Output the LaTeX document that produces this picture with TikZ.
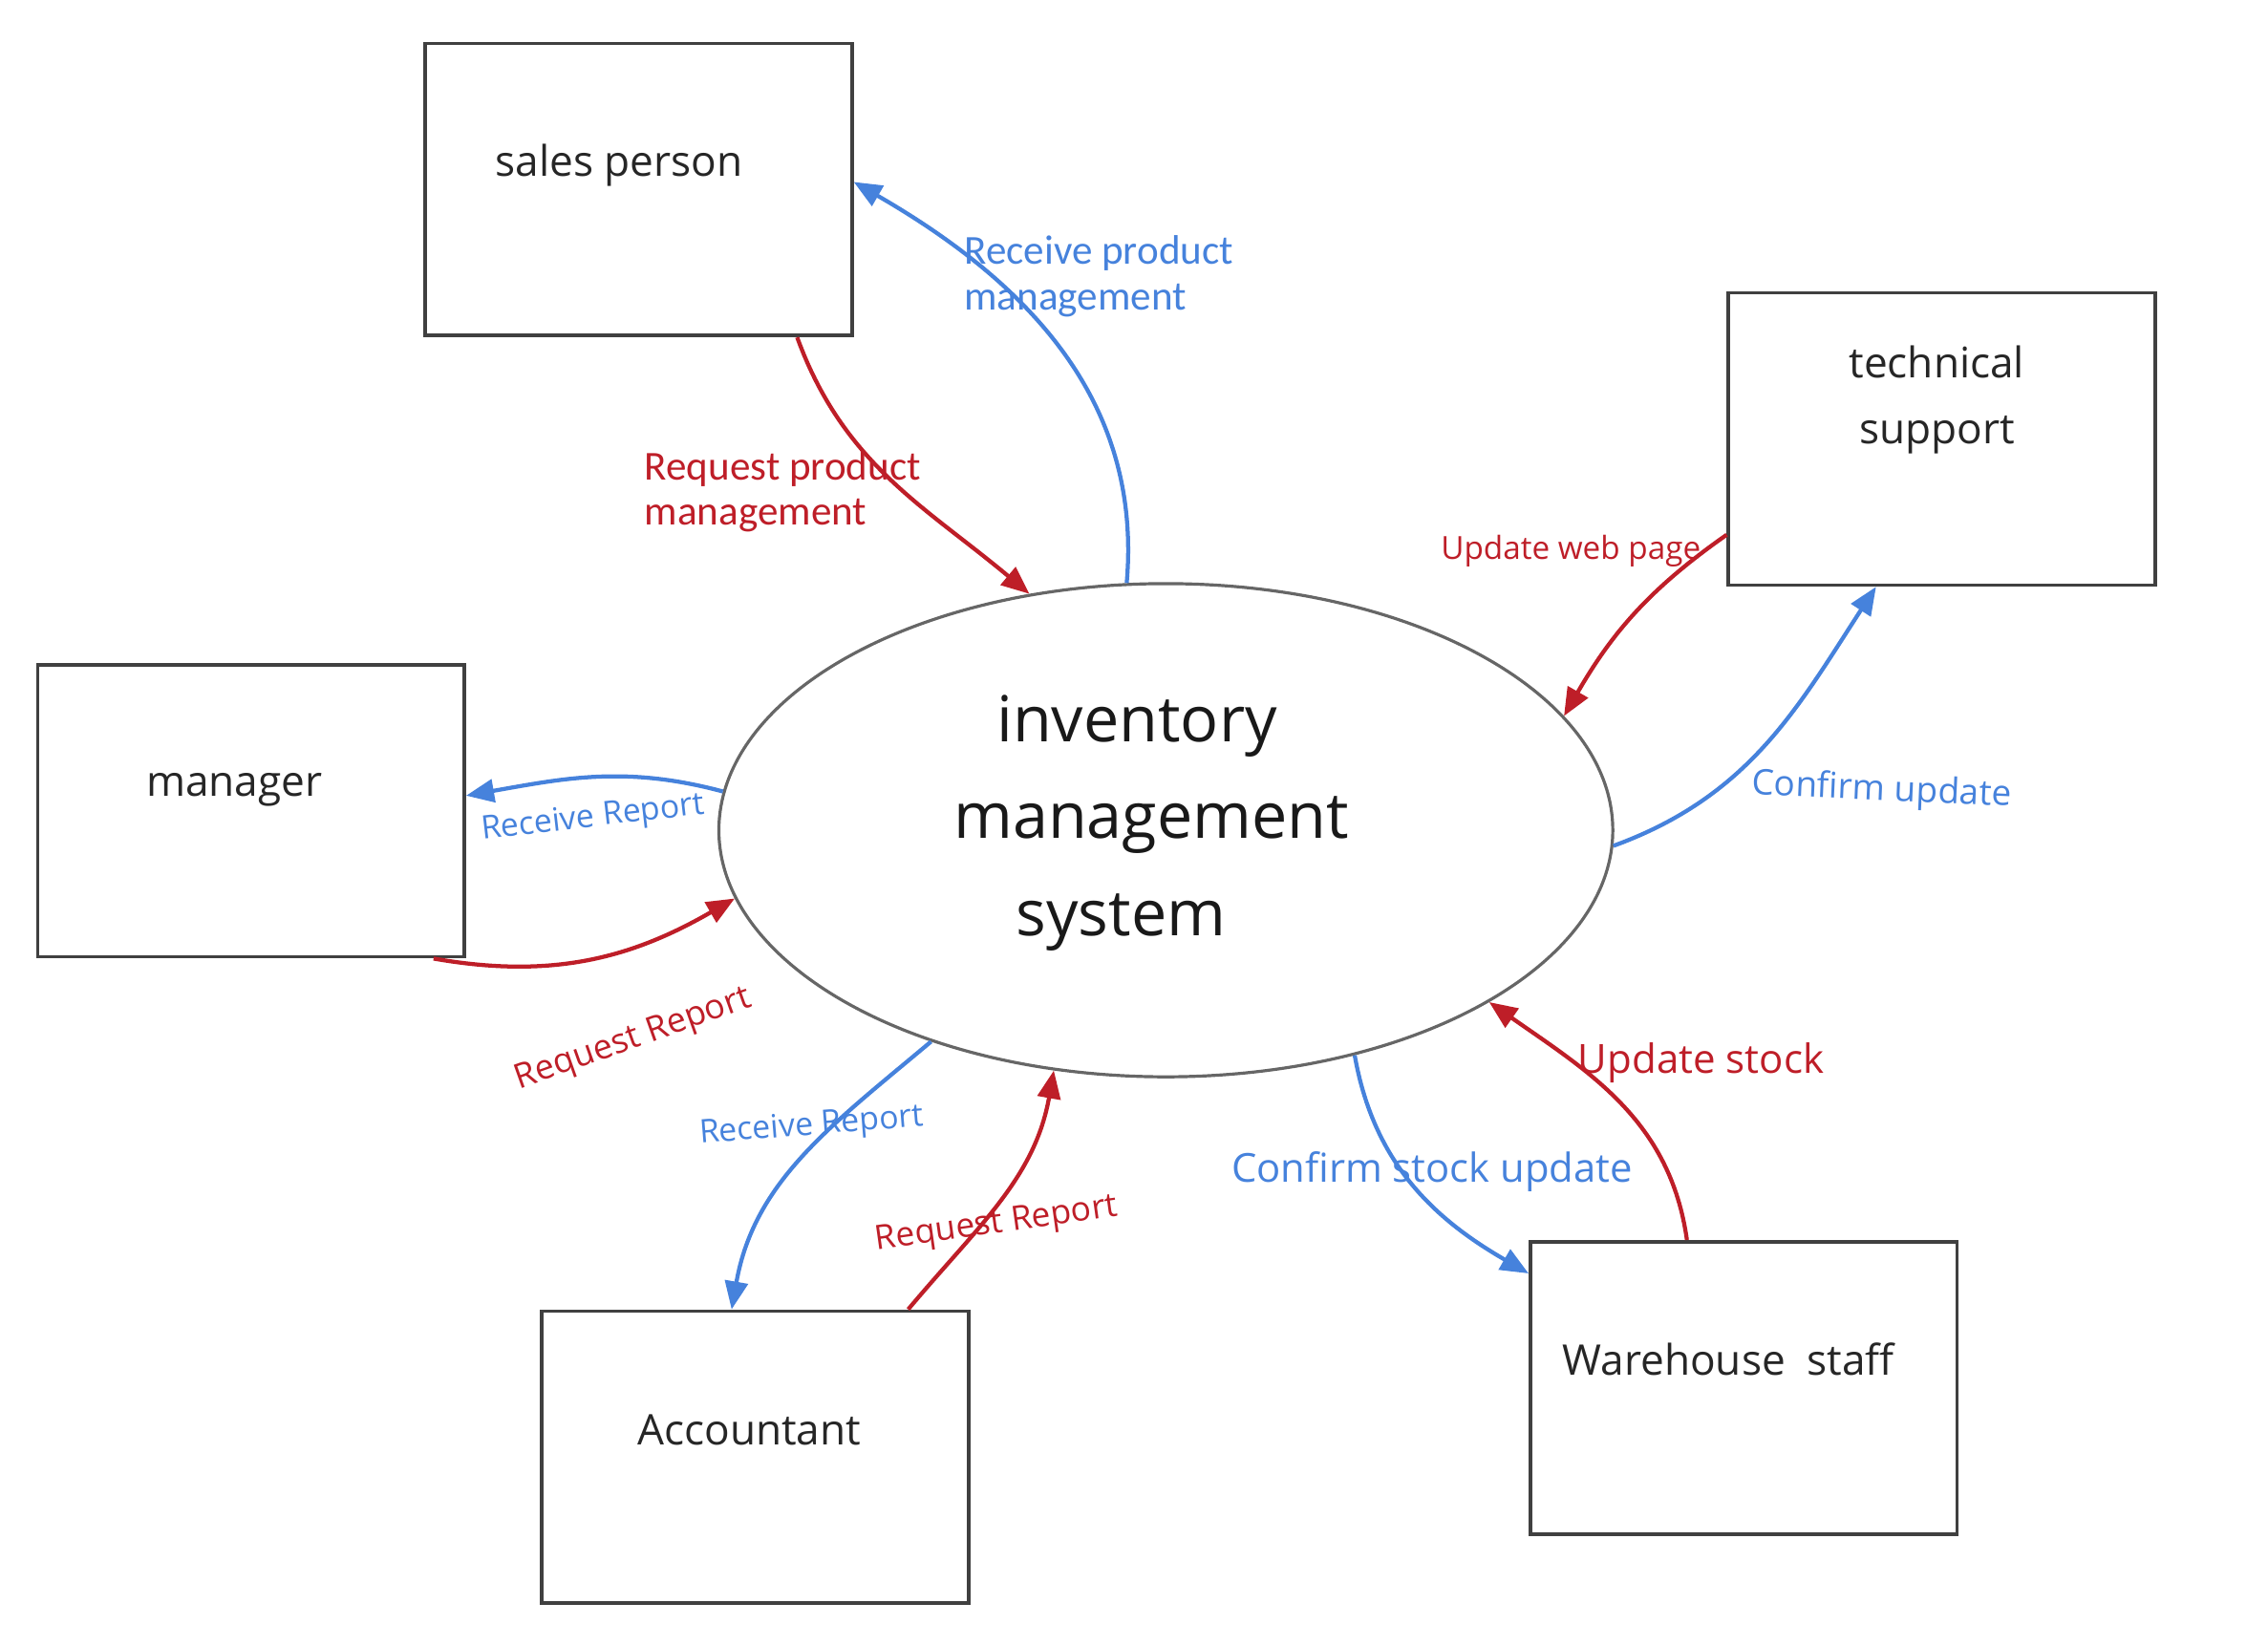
\documentclass[tikz,border=0pt]{standalone}
\usepackage{fontspec}
\setmainfont{Open Sans}
\newfontfamily\narrowfont{Carlito}
\usetikzlibrary{arrows.meta,shapes.geometric}
\definecolor{flowred}{RGB}{190,30,40}
\definecolor{flowblue}{RGB}{70,130,220}
\tikzset{
  entity/.style={draw=black!75, line width=0.7pt, minimum width=2.95cm, minimum height=2.02cm, inner sep=0pt},
  enttext/.style={text=black!85, font=\fontsize{8.3}{12.9}\selectfont, align=center, inner sep=0pt},
  flow/.style={line width=0.8pt, -{Triangle[length=5.5pt,width=4.5pt]}},
  req/.style={flow, flowred},
  rcv/.style={flow, flowblue},
  reqlabel/.style={text=flowred, inner sep=0pt},
  rcvlabel/.style={text=flowblue, inner sep=0pt},
}
\begin{document}
\begin{tikzpicture}[scale=1]
\useasboundingbox (0,0) rectangle (15.68,-11.38);

\node[entity] (sales) at (4.415,-1.31) {};
\node[entity] (tech) at (13.425,-3.035) {};
\node[entity] (manager) at (1.735,-5.605) {};
\node[entity] (accountant) at (5.22,-10.075) {};
\node[entity] (warehouse) at (12.055,-9.595) {};
\node[draw=black!60, line width=0.6pt, ellipse, minimum width=6.18cm, minimum height=3.41cm, inner sep=0pt] (ims) at (8.06,-5.74) {};

\node[enttext] (salesT) at (4.28,-1.14) {sales person};
\node[enttext] (techT) at (13.39,-2.765) {technical\\ support};
\node[enttext] (managerT) at (1.62,-5.46) {manager};
\node[enttext] (accountantT) at (5.18,-9.89) {Accountant};
\node[enttext] (warehouseT) at (11.95,-9.40) {Warehouse~ staff};
\node[font=\fontsize{12.5}{19.1}\selectfont, align=center, text=black!90] (imsT) at (7.86,-5.69) {inventory\\ \hspace*{0.2cm}management\\ system\hspace*{0.22cm}};

% sales person
\draw[req] (sales.-43.5) to[out=-70,in=140] (ims.120);
\draw[rcv] (ims.99) to[out=85,in=-30] (sales.2);
\node[reqlabel, anchor=west, align=left, font=\narrowfont\fontsize{8.1}{8.9}\selectfont] (reqSales) at (4.45,-3.4) {Request product\\ management};
\node[rcvlabel, anchor=west, align=left, font=\narrowfont\fontsize{8.1}{8.9}\selectfont] (rcvSales) at (6.66,-1.91) {Receive product\\ management};

% technical support
\draw[req] (tech.204) to[out=215,in=60] (ims.16);
\draw[rcv] (ims.-2) to[out=20,in=237] (tech.246);
\node[reqlabel, font=\fontsize{6.25}{7}\selectfont] (reqTech) at (10.86,-3.81) {Update web page};
\node[rcvlabel, font=\fontsize{6.95}{8}\selectfont, rotate=-2.5] (rcvTech) at (13.01,-5.47) {Confirm update};

% manager
\draw[rcv] (ims.175.5) to[out=165,in=10] (manager.4);
\draw[req] (manager.-39) to[out=-10,in=210] (ims.189);
\node[rcvlabel, font=\fontsize{6.35}{7}\selectfont, rotate=6.6] (rcvManager) at (4.1,-5.66) {Receive Report};
\node[reqlabel, font=\fontsize{6.75}{7}\selectfont, rotate=19.6] (reqManager) at (4.38,-7.19) {Request Report};

% accountant
\draw[rcv] (ims.222) to[out=220,in=80] (accountant.99.6);
\draw[req] (accountant.44) to[out=50,in=-100] (ims.245.4);
\node[rcvlabel, font=\fontsize{6.35}{7}\selectfont, rotate=4.5] (rcvAccountant) at (5.61,-7.79) {Receive Report};
\node[reqlabel, font=\fontsize{6.65}{7}\selectfont, rotate=8] (reqAccountant) at (6.89,-8.47) {Request Report};

% warehouse staff
\draw[rcv] (ims.-50) to[out=-80,in=150] (warehouse.152);
\draw[req] (warehouse.111) to[out=98,in=-35] (ims.-28);
\node[rcvlabel, font=\fontsize{7.85}{9}\selectfont] (rcvWarehouse) at (9.9,-8.1) {Confirm stock update};
\node[reqlabel, font=\fontsize{7.9}{9}\selectfont] (reqWarehouse) at (11.76,-7.35) {Update stock};

\end{tikzpicture}
\end{document}
